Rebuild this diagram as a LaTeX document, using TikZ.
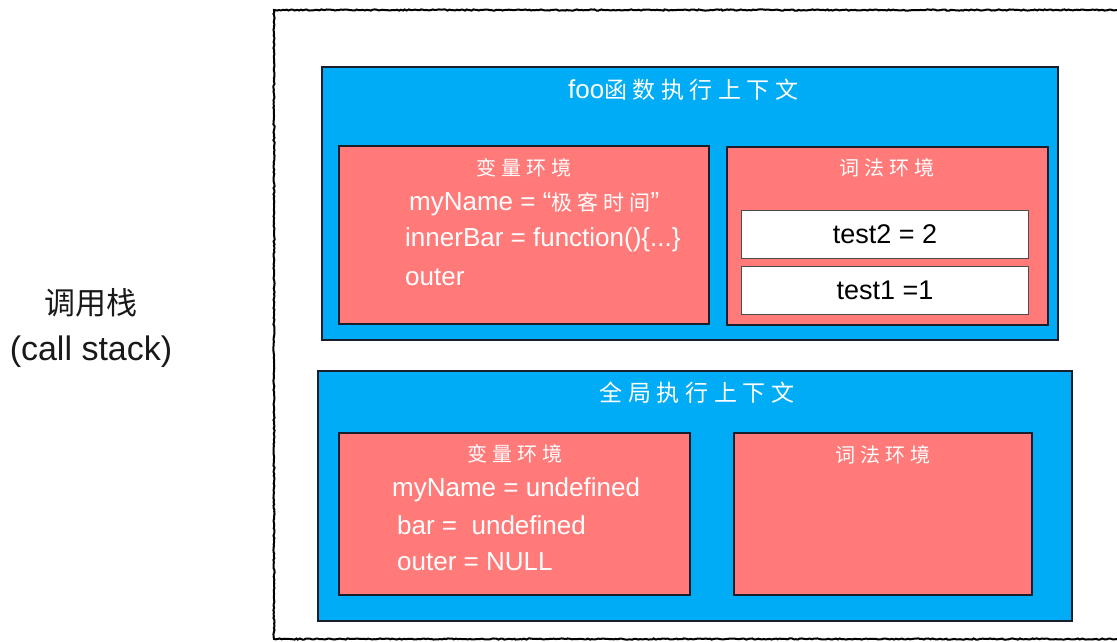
\documentclass[tikz,border=0pt]{standalone}
\usepackage{fontspec}
\setmainfont{Liberation Sans}
\newfontfamily\cjk{Noto Sans CJK SC}
\newfontfamily\cjksp[LetterSpace=24]{Noto Sans CJK SC}
\usetikzlibrary{decorations.pathmorphing}
\definecolor{ctxblue}{RGB}{0,172,245}
\definecolor{envred}{RGB}{255,122,120}
\definecolor{edgecol}{RGB}{25,30,45}
\tikzset{
  ctxbox/.style={draw=edgecol, fill=ctxblue, line width=1.6pt, anchor=north west, inner sep=0pt},
  envbox/.style={draw=edgecol, fill=envred, line width=1.6pt, anchor=north west, inner sep=0pt},
  valbox/.style={draw=black!70, fill=white, line width=0.9pt, anchor=north west, inner sep=0pt},
  sketchline/.style={draw=black, line width=2pt, decorate, decoration={random steps, segment length=2pt, amplitude=0.6pt}},
  titletext/.style={text=white, font=\fontsize{26}{30}\selectfont, inner sep=0pt},
  subtext/.style={text=white, font=\cjksp\fontsize{20}{22}\selectfont, inner sep=0pt},
  bodytext/.style={text=white, font=\fontsize{26}{30}\selectfont, anchor=west, inner sep=0pt},
  valtext/.style={text=black, font=\fontsize{27}{30}\selectfont, inner sep=0pt},
  labeltext/.style={text=black!90, inner sep=0pt},
}
\begin{document}
\begin{tikzpicture}[x=1pt, y=-1pt]
\useasboundingbox (0,0) rectangle (1117,641);
\fill[white] (0,0) rectangle (1117,641);

% call stack frame (open on the right)
\coordinate (ftr) at (1117,10);
\coordinate (ftl) at (274,10);
\coordinate (fbl) at (274,639);
\coordinate (fbr) at (1117,639);
\draw[sketchline] (ftr) -- (ftl) -- (fbl) -- (fbr);

% left label
\node[labeltext, font=\cjk\fontsize{31}{34}\selectfont] (cs) at (91,303) {调用栈};
\node[labeltext, font=\fontsize{34}{38}\selectfont] (csen) at (91,352) {(call stack)};

% foo execution context
\node[ctxbox, minimum width=736pt, minimum height=273pt] (foo) at (321,66) {};
\node[titletext, anchor=west] (footitle) at (568,90) {foo{\cjksp\fontsize{23}{25}\selectfont 函数执行上下文}};

\node[envbox, minimum width=370pt, minimum height=178pt] (foovar) at (338,145) {};
\node[subtext] (foovart) at (524,168) {变量环境};
\node[bodytext] (fl1) at (409,204) {myName = “{\cjksp\fontsize{21}{24}\selectfont 极客时间}”};
\node[bodytext] (fl2) at (405,240) {innerBar = function()\{...\}};
\node[bodytext] (fl3) at (405,277) {outer};

\node[envbox, minimum width=321pt, minimum height=178pt] (foolex) at (726,146) {};
\node[subtext] (foolext) at (887,168) {词法环境};
\node[valbox, minimum width=287pt, minimum height=48pt] (t2box) at (741,210) {};
\node[valtext] (t2) at (t2box.center) {test2 = 2};
\node[valbox, minimum width=287pt, minimum height=48pt] (t1box) at (741,266) {};
\node[valtext] (t1) at (t1box.center) {test1 =1};

% global execution context
\node[ctxbox, minimum width=754pt, minimum height=250pt] (glob) at (317,370) {};
\node[titletext, font=\cjksp\fontsize{23}{25}\selectfont] (globtitle) at (697,393) {全局执行上下文};

\node[envbox, minimum width=351pt, minimum height=162pt] (globvar) at (338,432) {};
\node[subtext] (globvart) at (515,454) {变量环境};
\node[bodytext] (gl1) at (392,490) {myName = undefined};
\node[bodytext] (gl2) at (397,525) {bar = \ undefined};
\node[bodytext] (gl3) at (397,562) {outer = NULL};

\node[envbox, minimum width=298pt, minimum height=162pt] (globlex) at (733,432) {};
\node[subtext] (globlext) at (883,455) {词法环境};
\end{tikzpicture}
\end{document}
